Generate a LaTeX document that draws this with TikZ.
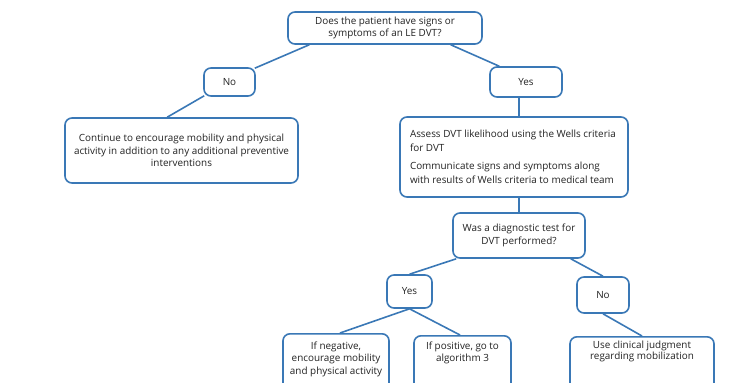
\documentclass[tikz,border=0pt]{standalone}
\usepackage{fontspec}
\setmainfont{Open Sans}
\usetikzlibrary{calc}
\definecolor{boxblue}{RGB}{58,120,182}
\definecolor{txt}{RGB}{35,35,35}
\tikzset{
  box/.style={draw=boxblue, line width=1.6pt, rounded corners=7pt, fill=white,
    text=txt, align=center, inner sep=0pt, font=\fontsize{9.9}{12.5}\selectfont},
  conn/.style={draw=boxblue, line width=1.6pt}
}
\begin{document}
\begin{tikzpicture}[x=1pt,y=-1pt]
\useasboundingbox (0,0) rectangle (737,383);
\node[box, minimum width=194pt, minimum height=32pt] (top) at (385,28)
  {Does the patient have signs or\\symptoms of an LE DVT?};
\node[box, minimum width=51pt, minimum height=28pt] (no) at (229.5,82) {No};
\node[box, minimum width=72pt, minimum height=30pt] (yes) at (526,82) {Yes};
\node[box, minimum width=233pt, minimum height=65pt] (left) at (181.5,150.5)
  {Continue to encourage mobility and physical\\activity in addition to any additional preventive\\interventions};
\node[box, minimum width=228pt, minimum height=80pt] (right) at (514,157)
  {\parbox{208pt}{\raggedright\fontsize{9.9}{14}\selectfont Assess DVT likelihood using the Wells criteria\\for DVT\\[4pt]Communicate signs and symptoms along\\with results of Wells criteria to medical team}};
\node[box, minimum width=132pt, minimum height=45pt] (diag) at (519,235.5)
  {Was a diagnostic test for\\DVT performed?};
\node[box, minimum width=45pt, minimum height=33pt] (yes2) at (409.5,291.5) {Yes};
\node[box, minimum width=52pt, minimum height=36pt] (no2) at (603,295) {No};
\node[box, anchor=north, inner ysep=8pt] (lc) at (336,333)
  {\parbox[c][46pt][t]{106pt}{\centering If negative,\\encourage mobility\\and physical activity}};
\node[box, anchor=north, inner ysep=6pt] (rc) at (462.5,335)
  {\parbox[c][46pt][t]{97pt}{\centering If positive, go to\\algorithm 3}};
\node[box, anchor=north, inner ysep=4pt] (nc) at (642,336)
  {\parbox[c][46pt][t]{144pt}{\centering\fontsize{9.9}{11.5}\selectfont Use clinical judgment\\regarding mobilization}};
\draw[conn] ($(top.south west)+(22,0)$) -- ($(no.north east)+(-1,1)$);
\draw[conn] ($(no.south west)+(1,-1)$) -- ($(left.north west)+(103,0)$);
\draw[conn] ($(top.south east)+(-32,0)$) -- ($(yes.north west)+(10,0)$);
\draw[conn] (yes.south -| diag.north) -- (right.north -| diag.north);
\draw[conn] (right.south -| diag.north) -- (diag.north);
\draw[conn] ($(diag.south west)+(4,0)$) -- (yes2.north);
\draw[conn] ($(diag.south east)+(-15,0)$) -- (no2.north);
\draw[conn] (yes2.south) -- ($(lc.north)+(4,0)$);
\draw[conn] (yes2.south) -- ($(rc.north)+(-2.5,0)$);
\draw[conn] (no2.south) -- (nc.north);
\end{tikzpicture}
\end{document}
